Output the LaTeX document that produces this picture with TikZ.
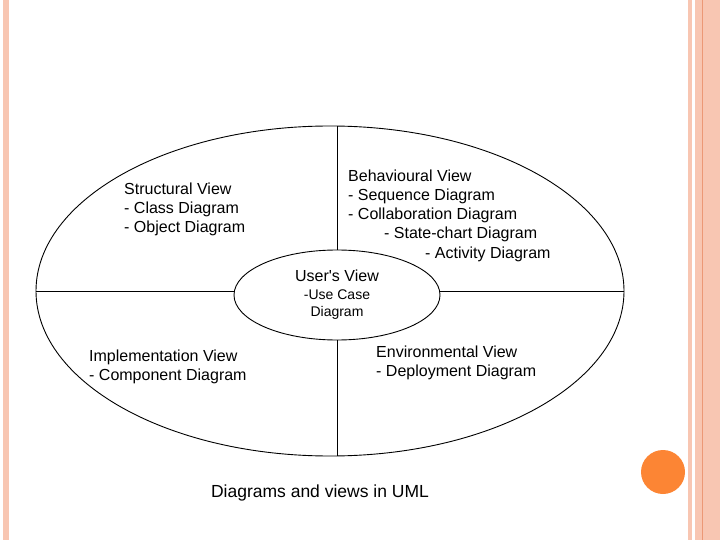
\documentclass[tikz,border=0pt]{standalone}
\usepackage{fontspec}
\setmainfont{Liberation Sans}
\usetikzlibrary{shapes.geometric}

\definecolor{peach}{RGB}{248,198,178}
\definecolor{peachdark}{RGB}{236,152,118}
\definecolor{dotorange}{RGB}{252,133,52}

\tikzset{
  viewtext/.style={font=\fontsize{16}{19.2}\selectfont, align=left, anchor=west, inner sep=0pt},
  viewline/.style={line width=0.9pt}
}

\begin{document}
\begin{tikzpicture}[x=1pt,y=-1pt]
\useasboundingbox (0,0) rectangle (720,540);
% slide border
\fill[peach] (3,0) rectangle (9,540);
\fill[peach] (688,0) rectangle (692,540);
\fill[peach] (695,0) rectangle (720,540);
\fill[peachdark] (701.5,0) rectangle (703,540);
\fill[dotorange] (663,472) circle (22);

% the views
\node[draw, viewline, ellipse, minimum width=588pt, minimum height=330pt, inner sep=0pt] (outer) at (330,291) {};
\node[draw, viewline, ellipse, minimum width=206pt, minimum height=90pt, inner sep=0pt, align=center,
      font=\fontsize{14}{17.5}\selectfont] (users) at (337,295)
  {{\fontsize{16}{18}\selectfont User\textquotesingle s View}\\[0pt]-Use Case\\Diagram};
\draw[viewline] (outer.west) -- (outer.west -| users.west);
\draw[viewline] (outer.east) -- (outer.east -| users.east);
\draw[viewline] (users.north) -- (users.north |- outer.north);
\draw[viewline] (users.south) -- (users.south |- outer.south);

\node[viewtext] (structural) at (124,209.5) {Structural View\\- Class Diagram\\- Object Diagram};
\node[viewtext] (behavioural) at (348,215.5) {Behavioural View\\- Sequence Diagram\\- Collaboration Diagram\\\hspace*{36pt}- State-chart Diagram\\\hspace*{77pt}- Activity Diagram};
\node[viewtext] (implementation) at (89,366.5) {Implementation View\\- Component Diagram};
\node[viewtext] (environmental) at (376,362.5) {Environmental View\\- Deployment Diagram};

\node[font=\fontsize{17.5}{21}\selectfont, inner sep=0pt] (caption) at (320,493) {Diagrams and views in UML};
\end{tikzpicture}
\end{document}
